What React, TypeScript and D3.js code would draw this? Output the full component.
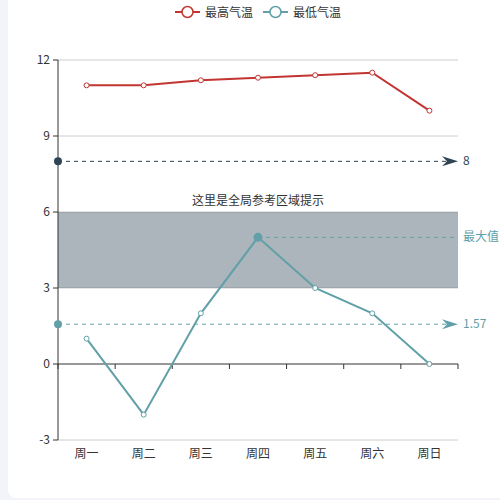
import React from "react";
import * as d3 from "d3";

const categories = ["周一", "周二", "周三", "周四", "周五", "周六", "周日"];
const highTemps = [11, 11, 11.2, 11.3, 11.4, 11.5, 10];
const lowTemps = [1, -2, 2, 5, 3, 2, 0];
const yTicks = [-3, 0, 3, 6, 9, 12];
const seriesNames = ["最高气温", "最低气温"];
const markLineValue = 8;
const markAreaRange = [3, 6];
const markAreaLabel = "这里是全局参考区域提示";
const maxLabel = "最大值";

const RED = "#c23531";
const TEAL = "#61a0a8";
const DARK = "#2f4554";
const FONT = "'Noto Sans CJK SC', sans-serif";

export default function App() {
  const left = 58, right = 458, top = 60, bottom = 440;
  const x = d3.scaleBand<string>().domain(categories).range([left, right]);
  const y = d3.scaleLinear().domain([-3, 12]).range([bottom, top]);
  const cx = (c: string) => (x(c) as number) + x.bandwidth() / 2;
  const line = d3
    .line<number>()
    .x((_, i) => cx(categories[i]))
    .y((d) => y(d));

  const mean = d3.mean(lowTemps) as number;
  const maxVal = d3.max(lowTemps) as number;
  const maxIdx = lowTemps.indexOf(maxVal);

  const boundaries = categories.map((c) => x(c) as number).concat([right]);

  const arrow = (xe: number, ye: number, color: string) => (
    <path
      d={`M${xe},${ye} L${xe - 16},${ye - 5} L${xe - 11},${ye} L${xe - 16},${ye + 5} Z`}
      fill={color}
    />
  );

  return (
    <div
      style={{
        position: "fixed",
        left: 0,
        top: 0,
        width: 500,
        height: 500,
        background: "#f3f4f9",
      }}
    >
      <svg width={500} height={500} style={{ display: "block" }} fontFamily={FONT}>
        <rect x={8} y={-10} width={510} height={508} rx={8} fill="#fff" />

        {/* legend */}
        {[
          { name: seriesNames[0], color: RED, x0: 175 },
          { name: seriesNames[1], color: TEAL, x0: 263 },
        ].map((l) => (
          <g key={l.name}>
            <line x1={l.x0} x2={l.x0 + 25} y1={12} y2={12} stroke={l.color} strokeWidth={2} />
            <circle cx={l.x0 + 12.5} cy={12} r={5.5} fill="#fff" stroke={l.color} strokeWidth={1.5} />
            <text x={l.x0 + 30} y={16.5} fontSize={12} fill="#333">
              {l.name}
            </text>
          </g>
        ))}

        {/* grid lines */}
        {yTicks
          .filter((t) => t !== 0)
          .map((t) => (
            <line key={t} x1={left} x2={right} y1={y(t)} y2={y(t)} stroke="#ccc" strokeWidth={1} />
          ))}

        {/* mark area */}
        <rect
          x={left}
          y={y(markAreaRange[1])}
          width={right - left}
          height={y(markAreaRange[0]) - y(markAreaRange[1])}
          fill="rgba(47,69,84,0.4)"
        />
        <text
          x={(left + right) / 2}
          y={y(markAreaRange[1]) - 7}
          textAnchor="middle"
          fontSize={12}
          fill="#333"
        >
          {markAreaLabel}
        </text>

        {/* y axis */}
        <line x1={left} x2={left} y1={top} y2={bottom} stroke="#333" strokeWidth={1} />
        {yTicks.map((t) => (
          <g key={t}>
            <line x1={left - 5} x2={left} y1={y(t)} y2={y(t)} stroke="#333" />
            <text x={left - 8} y={y(t) + 4} textAnchor="end" fontSize={12} fill="#333">
              {t}
            </text>
          </g>
        ))}

        {/* x axis on zero */}
        <line x1={left} x2={right} y1={y(0)} y2={y(0)} stroke="#333" strokeWidth={1} />
        {boundaries.map((b, i) => (
          <line key={i} x1={b} x2={b} y1={y(0)} y2={y(0) + 5} stroke="#333" />
        ))}
        {categories.map((c) => (
          <text key={c} x={cx(c)} y={bottom + 18} textAnchor="middle" fontSize={12} fill="#333">
            {c}
          </text>
        ))}

        {/* mark line 8 */}
        <line
          x1={left}
          x2={right - 12}
          y1={y(markLineValue)}
          y2={y(markLineValue)}
          stroke={DARK}
          strokeDasharray="4,4"
        />
        <circle cx={left} cy={y(markLineValue)} r={4} fill={DARK} />
        {arrow(right, y(markLineValue), DARK)}
        <text x={right + 5} y={y(markLineValue) + 4} fontSize={12} fill={DARK}>
          {markLineValue}
        </text>

        {/* mean line */}
        <line x1={left} x2={right - 12} y1={y(mean)} y2={y(mean)} stroke={TEAL} strokeDasharray="4,4" />
        <circle cx={left} cy={y(mean)} r={4} fill={TEAL} />
        {arrow(right, y(mean), TEAL)}
        <text x={right + 5} y={y(mean) + 4} fontSize={12} fill={TEAL}>
          {mean.toFixed(2)}
        </text>

        {/* max line */}
        <line
          x1={cx(categories[maxIdx])}
          x2={right}
          y1={y(maxVal)}
          y2={y(maxVal)}
          stroke={TEAL}
          strokeDasharray="4,4"
        />
        <text x={right + 5} y={y(maxVal) + 4} fontSize={12} fill={TEAL}>
          {maxLabel}
        </text>

        {/* series */}
        <path d={line(highTemps) as string} fill="none" stroke={RED} strokeWidth={2} />
        {highTemps.map((v, i) => (
          <circle key={i} cx={cx(categories[i])} cy={y(v)} r={2.5} fill="#fff" stroke={RED} strokeWidth={1} />
        ))}
        <path d={line(lowTemps) as string} fill="none" stroke={TEAL} strokeWidth={2} />
        {lowTemps.map((v, i) =>
          i === maxIdx ? (
            <circle key={i} cx={cx(categories[i])} cy={y(v)} r={4.5} fill={TEAL} />
          ) : (
            <circle key={i} cx={cx(categories[i])} cy={y(v)} r={2.5} fill="#fff" stroke={TEAL} strokeWidth={1} />
          )
        )}
      </svg>
    </div>
  );
}
